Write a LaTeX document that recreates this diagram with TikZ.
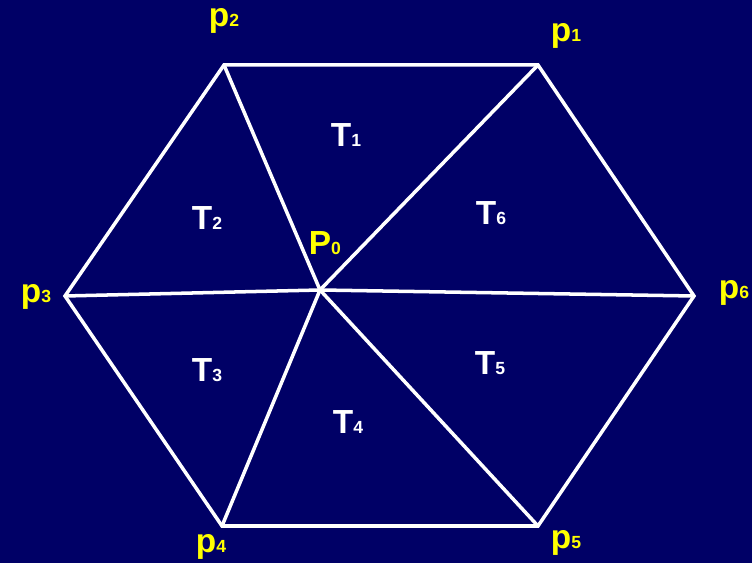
\documentclass[tikz,border=0pt]{standalone}
\usepackage{fontspec}
\setmainfont{Liberation Sans}
\definecolor{navy}{RGB}{0,0,102}
\definecolor{lblyellow}{RGB}{255,255,0}
\newcommand{\sub}[2]{#1{\fontsize{10}{10}\selectfont #2}}
\begin{document}
\begin{tikzpicture}[
    plabel/.style={text=lblyellow, font=\fontsize{19}{20}\selectfont\bfseries, inner sep=0pt},
    tlabel/.style={text=white, font=\fontsize{19}{20}\selectfont\bfseries, inner sep=0pt},
    edge/.style={draw=white, line width=2pt, line join=miter},
    x=0.02cm, y=-0.02cm
  ]
  \fill[navy] (0,0) rectangle (752,563);
  \useasboundingbox (0,0) rectangle (752,563);
  % hexagon corners and centre
  \coordinate (p1) at (538,65);
  \coordinate (p2) at (224,65);
  \coordinate (p3) at (65,296);
  \coordinate (p4) at (222,526);
  \coordinate (p5) at (538,526);
  \coordinate (p6) at (694,296);
  \coordinate (P0) at (320,290);
  \draw[edge] (p1) -- (p2) -- (p3) -- (p4) -- (p5) -- (p6) -- cycle;
  \draw[edge] (P0) -- (p1);
  \draw[edge] (P0) -- (p2);
  \draw[edge] (P0) -- (p3);
  \draw[edge] (P0) -- (p4);
  \draw[edge] (P0) -- (p5);
  \draw[edge] (P0) -- (p6);
  % corner labels
  \node[plabel] (l1) at (566,36) {\sub{p}{1}};
  \node[plabel] (l2) at (224,21) {\sub{p}{2}};
  \node[plabel] (l3) at (36,297) {\sub{p}{3}};
  \node[plabel] (l4) at (211,547) {\sub{p}{4}};
  \node[plabel] (l5) at (566,543) {\sub{p}{5}};
  \node[plabel] (l6) at (734,293) {\sub{p}{6}};
  \node[plabel] (l0) at (325,243) {\sub{P}{0}};
  % triangle labels
  \node[tlabel] (t1) at (346,135) {\sub{T}{1}};
  \node[tlabel] (t2) at (207,218) {\sub{T}{2}};
  \node[tlabel] (t3) at (207,370) {\sub{T}{3}};
  \node[tlabel] (t4) at (348,422) {\sub{T}{4}};
  \node[tlabel] (t5) at (490,363) {\sub{T}{5}};
  \node[tlabel] (t6) at (491,213) {\sub{T}{6}};
\end{tikzpicture}
\end{document}
